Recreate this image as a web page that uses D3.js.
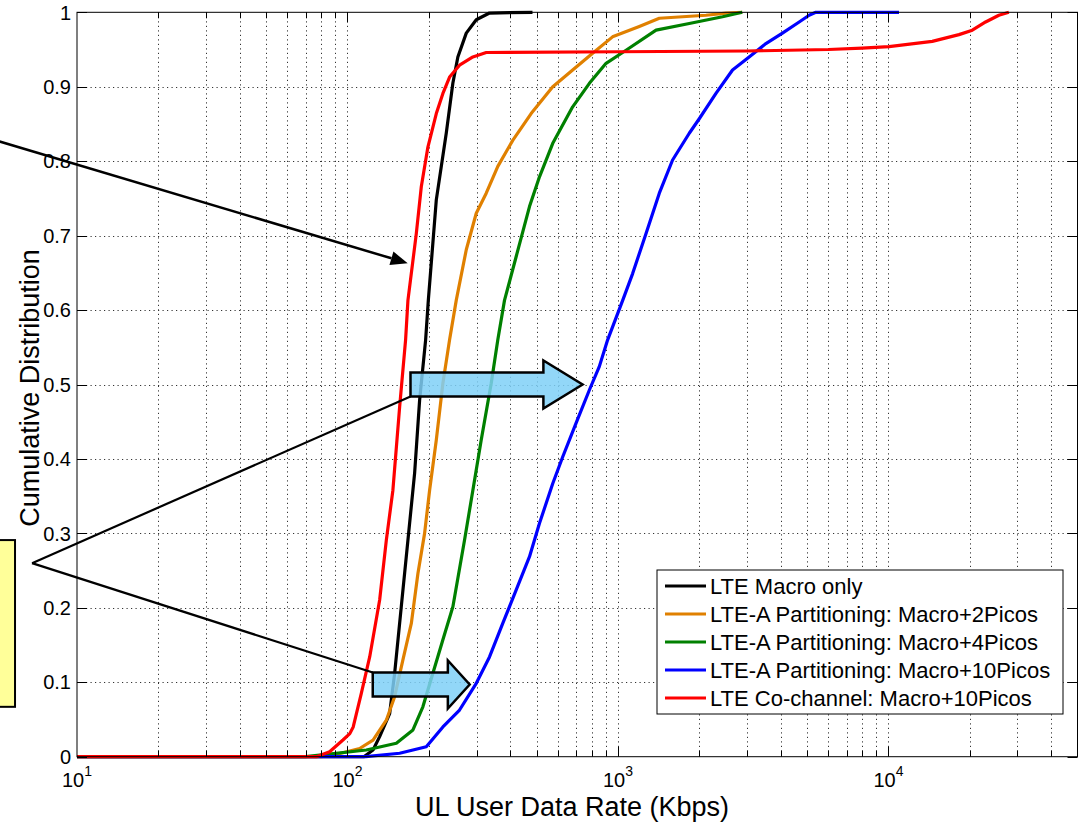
<!DOCTYPE html>
<html>
<head>
<meta charset="utf-8">
<script src="https://cdn.jsdelivr.net/npm/d3@7"></script>
<style>
  body { margin: 0; background: #fff; }
  svg { display: block; font-family: 'Liberation Sans', Arial, sans-serif; }
</style>
</head>
<body>
<div id="chart"></div>
<script>
// series, in plot order
const seriesNames = [
  'LTE Macro only',
  'LTE-A Partitioning: Macro+2Picos',
  'LTE-A Partitioning: Macro+4Picos',
  'LTE-A Partitioning: Macro+10Picos',
  'LTE Co-channel: Macro+10Picos'
];
const seriesColors = ['#000000', '#e08000', '#008000', '#0000ff', '#ff0000'];

// [rate Kbps, cumulative probability]
const macroOnly = [[10, 0], [115, 0], [124.3, 0.009], [131.5, 0.027], [143.2, 0.058], [149.4, 0.112],
  [158.1, 0.2015], [167.3, 0.291], [177.1, 0.381], [184.8, 0.479], [194.5, 0.56], [199, 0.613],
  [213, 0.748], [231.9, 0.838], [245.3, 0.905], [255.9, 0.94], [274.9, 0.972], [299.3, 0.99],
  [335, 0.999], [483, 1]];
const partition2 = [[10, 0], [80, 0], [88.4, 0.002], [110.9, 0.011], [124.3, 0.0224], [139.2, 0.049],
  [149.4, 0.0806], [160.3, 0.13], [172.2, 0.179], [182.2, 0.2464], [192.8, 0.3], [201.2, 0.358],
  [213, 0.4255], [225.3, 0.5016], [238.5, 0.56], [252.4, 0.613], [274.9, 0.681], [299.3, 0.73],
  [325.8, 0.757], [359.6, 0.793], [408.3, 0.828], [477.5, 0.864], [574, 0.9], [680, 0.9225],
  [806, 0.945], [955, 0.967], [1199, 0.981], [1422, 0.992], [2115, 0.996], [2507, 0.999], [2880, 1]];
const partition4 = [[10, 0], [70, 0], [78.9, 0.002], [117.4, 0.009], [151.6, 0.018], [174.6, 0.036],
  [190, 0.067], [206.9, 0.112], [225.3, 0.157], [245.3, 0.2015], [270.9, 0.291], [290.8, 0.358],
  [312.2, 0.4255], [340, 0.5016], [359.6, 0.56], [380.6, 0.613], [420.5, 0.672], [470.9, 0.739],
  [512.7, 0.779], [574, 0.824], [680, 0.873], [784, 0.9046], [903.6, 0.9315], [1071, 0.949],
  [1383, 0.976], [1835, 0.985], [2436, 0.994], [2880, 1]];
const partition10 = [[10, 0], [117, 0], [155.9, 0.0046], [195.6, 0.0134], [225.3, 0.04], [259.6, 0.0627],
  [299.3, 0.0986], [335, 0.134], [375, 0.179], [420.5, 0.224], [470.9, 0.2687], [512.7, 0.3135],
  [574, 0.367], [625, 0.403], [700, 0.448], [784, 0.4926], [853, 0.524], [916, 0.56], [1041, 0.613],
  [1133, 0.649], [1270, 0.703], [1422, 0.757], [1592, 0.8016], [1835, 0.8375], [1998, 0.857],
  [2303, 0.891], [2652, 0.9225], [3055, 0.94], [3523, 0.958], [4056, 0.972], [4677, 0.987],
  [5090, 0.996], [5389, 1], [10940, 1]];
const coChannel = [[10, 0], [76.8, 0], [85.9, 0.0067], [96.2, 0.0224], [102, 0.031], [105, 0.04],
  [112.5, 0.085], [120.8, 0.134], [131.5, 0.2105], [139.2, 0.291], [147.2, 0.358], [155.9, 0.47],
  [164, 0.56], [167.3, 0.613], [179.7, 0.703], [187.5, 0.766], [198.3, 0.819], [213, 0.864],
  [225.3, 0.891], [238.5, 0.913], [259.6, 0.929], [290.8, 0.94], [325.8, 0.946], [1000, 0.947],
  [3000, 0.948], [6000, 0.95], [7990, 0.952], [10050, 0.954], [14520, 0.961], [18230, 0.97],
  [20420, 0.976], [22870, 0.987], [25600, 0.996], [27870, 1]];

const xDomain = [10, 50000];
const xMajorTicks = [10, 100, 1000, 10000];
const yTicks = [0, 0.1, 0.2, 0.3, 0.4, 0.5, 0.6, 0.7, 0.8, 0.9, 1];
const xLabel = 'UL User Data Rate (Kbps)';
const yLabel = 'Cumulative Distribution';

// annotation anchors, in data units
const blockArrows = [
  { from: 171, head: 530, to: 740, level: 0.5 },
  { from: 124, head: 235, to: 283, level: 0.097 }
];
const calloutPoint = [6.82, 0.26];
const noteBox = { left: 3, right: 5.9, top: 0.291, bottom: 0.067 };
const pointer = { from: [4.4, 0.834], to: [167, 0.663] };

const allSeries = [macroOnly, partition2, partition4, partition10, coChannel];

const W = 1078, H = 822;
const margin = { top: 12.3, right: 0.5, bottom: 65.3, left: 77 };
const width = W - margin.left - margin.right;
const height = H - margin.top - margin.bottom;

const svg = d3.select('#chart').append('svg')
  .attr('width', W)
  .attr('height', H);

const x = d3.scaleLog().domain(xDomain).range([margin.left, margin.left + width]);
const y = d3.scaleLinear().domain([0, 1]).range([margin.top + height, margin.top]);

// grid
const grid = svg.append('g').attr('class', 'grid')
  .attr('stroke', '#333').attr('stroke-width', 1).attr('stroke-dasharray', '1.2,3.3');
grid.selectAll('line.gx')
  .data(x.ticks().filter(t => t > xDomain[0] && t < xDomain[1]))
  .enter().append('line')
  .attr('x1', d => Math.round(x(d)) + 0.5).attr('x2', d => Math.round(x(d)) + 0.5)
  .attr('y1', y(1)).attr('y2', y(0));
grid.selectAll('line.gy')
  .data(yTicks.slice(1, -1))
  .enter().append('line')
  .attr('x1', x(xDomain[0])).attr('x2', x(xDomain[1]))
  .attr('y1', d => Math.round(y(d)) + 0.5).attr('y2', d => Math.round(y(d)) + 0.5);

// curves
const line = d3.line().x(d => x(d[0])).y(d => y(d[1]));
svg.append('g').selectAll('path')
  .data(allSeries)
  .enter().append('path')
  .attr('d', line)
  .attr('fill', 'none')
  .attr('stroke', (d, i) => seriesColors[i])
  .attr('stroke-width', 3.2)
  .attr('stroke-linejoin', 'round');

// annotations
const notes = svg.append('g').attr('class', 'notes');

notes.append('rect')
  .attr('x', x(noteBox.left)).attr('y', y(noteBox.top))
  .attr('width', x(noteBox.right) - x(noteBox.left))
  .attr('height', y(noteBox.bottom) - y(noteBox.top))
  .attr('fill', '#ffff99').attr('stroke', '#000').attr('stroke-width', 2);

const bodyHalf = 12, headHalf = 24;
notes.selectAll('path.block')
  .data(blockArrows)
  .enter().append('path')
  .attr('class', 'block')
  .attr('d', d => {
    const x0 = x(d.from), x1 = x(d.head), x2 = x(d.to), yc = y(d.level);
    return `M${x0},${yc - bodyHalf} L${x1},${yc - bodyHalf} L${x1},${yc - headHalf} L${x2},${yc}
      L${x1},${yc + headHalf} L${x1},${yc + bodyHalf} L${x0},${yc + bodyHalf} Z`;
  })
  .attr('fill', '#7fd0f7').attr('fill-opacity', 0.85)
  .attr('stroke', '#000').attr('stroke-width', 2.5);

// callout lines from the note to the two arrows
const cx = x(calloutPoint[0]), cy = y(calloutPoint[1]);
notes.append('line')
  .attr('x1', cx).attr('y1', cy)
  .attr('x2', x(blockArrows[0].from)).attr('y2', y(blockArrows[0].level) + bodyHalf)
  .attr('stroke', '#000').attr('stroke-width', 2.2);
notes.append('line')
  .attr('x1', cx).attr('y1', cy)
  .attr('x2', x(blockArrows[1].from)).attr('y2', y(blockArrows[1].level) - bodyHalf)
  .attr('stroke', '#000').attr('stroke-width', 2.2);

// pointer arrow to the co-channel curve
const px0 = x(pointer.from[0]), py0 = y(pointer.from[1]);
const px1 = x(pointer.to[0]), py1 = y(pointer.to[1]);
const ang = Math.atan2(py1 - py0, px1 - px0);
const headLen = 17, headW = 7;
const bx = px1 - headLen * Math.cos(ang), by = py1 - headLen * Math.sin(ang);
notes.append('line')
  .attr('x1', px0).attr('y1', py0).attr('x2', bx).attr('y2', by)
  .attr('stroke', '#000').attr('stroke-width', 2.5);
notes.append('path')
  .attr('d', `M${px1},${py1} L${bx - headW * Math.sin(ang)},${by + headW * Math.cos(ang)}
    L${bx + headW * Math.sin(ang)},${by - headW * Math.cos(ang)} Z`)
  .attr('fill', '#000');

// axes box and ticks (inward, mirrored)
const axes = svg.append('g').attr('stroke', '#000').attr('stroke-width', 1);
axes.append('rect')
  .attr('x', x(xDomain[0])).attr('y', y(1))
  .attr('width', x(xDomain[1]) - x(xDomain[0])).attr('height', y(0) - y(1))
  .attr('fill', 'none');

const majorLen = 10, minorLen = 6;
const xt = x.ticks().filter(t => t > xDomain[0] && t < xDomain[1]);
xt.forEach(t => {
  const len = xMajorTicks.includes(t) ? majorLen : minorLen;
  const px = Math.round(x(t)) + 0.5;
  axes.append('line').attr('x1', px).attr('x2', px).attr('y1', y(0)).attr('y2', y(0) - len);
  axes.append('line').attr('x1', px).attr('x2', px).attr('y1', y(1)).attr('y2', y(1) + len);
});
yTicks.forEach(t => {
  const py = Math.round(y(t)) + 0.5;
  axes.append('line').attr('x1', x(xDomain[0])).attr('x2', x(xDomain[0]) + majorLen).attr('y1', py).attr('y2', py);
  axes.append('line').attr('x1', x(xDomain[1])).attr('x2', x(xDomain[1]) - majorLen).attr('y1', py).attr('y2', py);
});

// tick labels
const tickFont = 20;
svg.append('g').selectAll('text')
  .data(yTicks)
  .enter().append('text')
  .attr('x', x(xDomain[0]) - 6)
  .attr('y', d => y(d))
  .attr('dy', '0.36em')
  .attr('text-anchor', 'end')
  .attr('font-size', tickFont)
  .text(d => d3.format('~g')(d));

const xl = svg.append('g').selectAll('text')
  .data(xMajorTicks)
  .enter().append('text')
  .attr('x', d => x(d))
  .attr('y', 787)
  .attr('text-anchor', 'middle')
  .attr('font-size', tickFont);
xl.append('tspan').text('10');
xl.append('tspan')
  .attr('dy', -11)
  .attr('font-size', 14)
  .text(d => Math.round(Math.log10(d)));

// axis titles
svg.append('text')
  .attr('x', 572)
  .attr('y', 816)
  .attr('text-anchor', 'middle')
  .attr('font-size', 27)
  .text(xLabel);
svg.append('text')
  .attr('transform', 'translate(39,388) rotate(-90)')
  .attr('text-anchor', 'middle')
  .attr('font-size', 27)
  .text(yLabel);

// legend
const lg = svg.append('g').attr('transform', 'translate(657,570)');
lg.append('rect')
  .attr('width', 406).attr('height', 144)
  .attr('fill', '#fff').attr('stroke', '#000').attr('stroke-width', 1);
const item = lg.selectAll('g.item')
  .data(seriesNames)
  .enter().append('g')
  .attr('transform', (d, i) => `translate(0,${16 + i * 28})`);
item.append('line')
  .attr('x1', 8).attr('x2', 49)
  .attr('stroke', (d, i) => seriesColors[i])
  .attr('stroke-width', 3.2);
item.append('text')
  .attr('x', 53)
  .attr('dy', '0.36em')
  .attr('font-size', 22)
  .text(d => d);
</script>
</body>
</html>
